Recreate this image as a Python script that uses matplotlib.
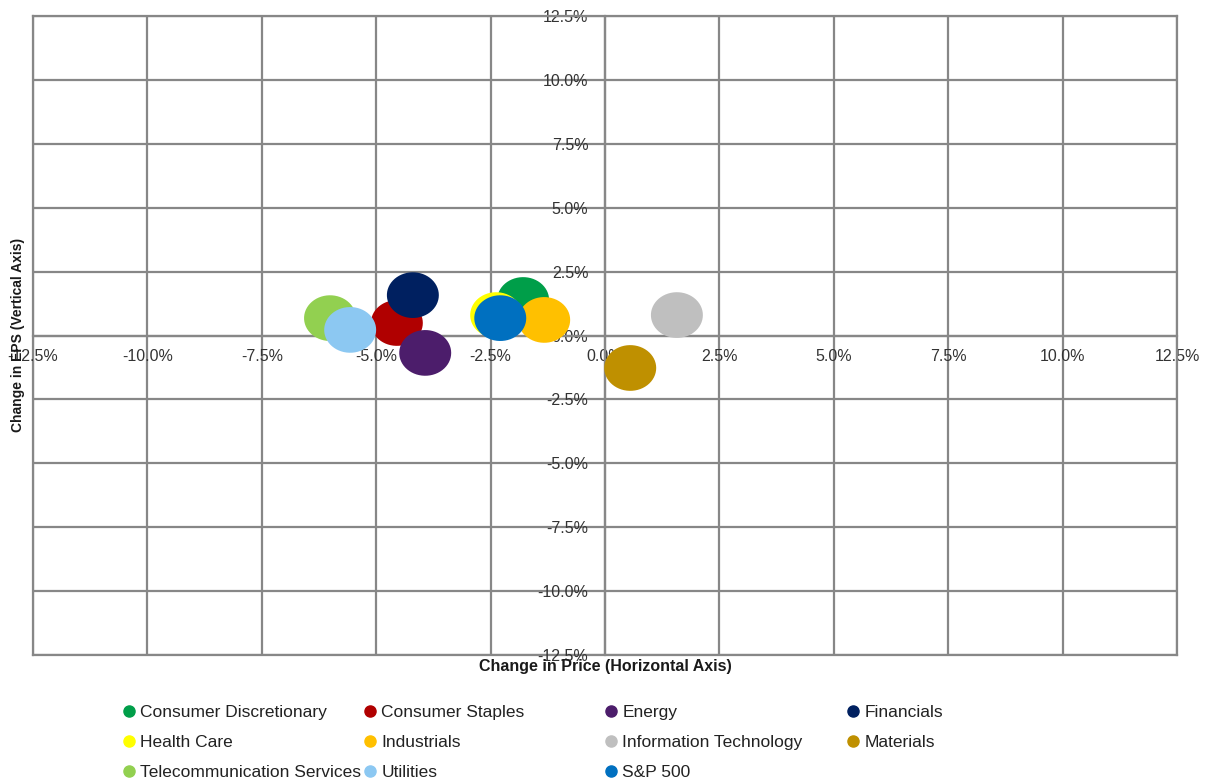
import matplotlib.pyplot as plt
from matplotlib.path import Path
from matplotlib.lines import Line2D
import numpy as np

plt.rcParams['font.family'] = ['Liberation Sans', 'DejaVu Sans']

# Sector data: change in price (x) and change in EPS (y), in percent
sectors = ['Consumer Discretionary', 'Consumer Staples', 'Energy', 'Financials',
           'Health Care', 'Industrials', 'Information Technology', 'Materials',
           'Telecommunication Services', 'Utilities', 'S&P 500']
price_chg = [-1.79, -4.55, -3.93, -4.20, -2.38, -1.33, 1.57, 0.55, -6.01, -5.57, -2.29]
eps_chg = [1.39, 0.49, -0.68, 1.58, 0.80, 0.61, 0.80, -1.27, 0.68, 0.22, 0.68]
colors = ['#009E49', '#B00000', '#4C1D6B', '#002060', '#FFFF00', '#FFC000',
          '#BFBFBF', '#BF9000', '#92D050', '#8CC8F2', '#0070C0']

ticks = np.arange(-12.5, 12.6, 2.5)

# slightly flattened bubble marker, like the Excel bubbles
theta = np.linspace(0, 2 * np.pi, 60)
ellipse = Path(np.column_stack([np.cos(theta), 0.88 * np.sin(theta)]), closed=True)

fig = plt.figure(figsize=(12.06, 7.81), dpi=100)
ax = fig.add_axes([0.0274, 0.1613, 0.9486, 0.8182])

for name, x, y, c in zip(sectors, price_chg, eps_chg, colors):
    ax.scatter(x, y, s=1400, marker=ellipse, color=c, edgecolors='none', zorder=3, label=name)

ax.set_xlim(-12.5, 12.5)
ax.set_ylim(-12.5, 12.5)
ax.set_xticks(ticks)
ax.set_yticks(ticks)
ax.set_xticklabels([f'{t:.1f}%' for t in ticks])
ax.set_yticklabels([f'{t:.1f}%' for t in ticks])
ax.grid(True, color='#878787', linewidth=1.6, zorder=0)
ax.set_axisbelow(True)

for side in ['left', 'bottom']:
    ax.spines[side].set_position(('data', 0))
    ax.spines[side].set_color('#878787')
    ax.spines[side].set_linewidth(1.6)
    ax.spines[side].set_zorder(1)
for side in ['top', 'right']:
    ax.spines[side].set_color('#878787')
    ax.spines[side].set_linewidth(1.6)
# outer frame on left/bottom
ax.axvline(-12.5, color='#878787', linewidth=1.6, clip_on=False, zorder=0)
ax.axhline(-12.5, color='#878787', linewidth=1.6, clip_on=False, zorder=0)

ax.tick_params(axis='both', length=0, labelsize=11.5, colors='#333333')
ax.tick_params(axis='x', pad=10)
ax.tick_params(axis='y', pad=12)
for lab in ax.get_xticklabels() + ax.get_yticklabels():
    lab.set_zorder(5)

fig.text(605 / 1206, 1 - 666 / 781, 'Change in Price (Horizontal Axis)', ha='center', va='center',
         fontsize=11.5, fontweight='bold', color='#1a1a1a')
fig.text(18 / 1206, 1 - 335 / 781, 'Change in EPS (Vertical Axis)', ha='center', va='center',
         rotation=90, fontsize=10, fontweight='bold', color='#1a1a1a')

# legend laid out as 4 equally spaced columns, filled row by row
handles = [Line2D([], [], marker='o', linestyle='none', markersize=8, color=c) for c in colors]
col_x = [124, 365, 606, 848]
for col in range(4):
    idx = list(range(col, len(sectors), 4))
    fig.legend([handles[i] for i in idx], [sectors[i] for i in idx],
               loc='upper left', bbox_to_anchor=(col_x[col] / 1206, 1 - 705 / 781),
               frameon=False, fontsize=12.5, handlelength=0.6, handletextpad=0.35,
               labelspacing=0.84, borderpad=0, borderaxespad=0, labelcolor='#222222')

fig.savefig('out.png', dpi=100)
